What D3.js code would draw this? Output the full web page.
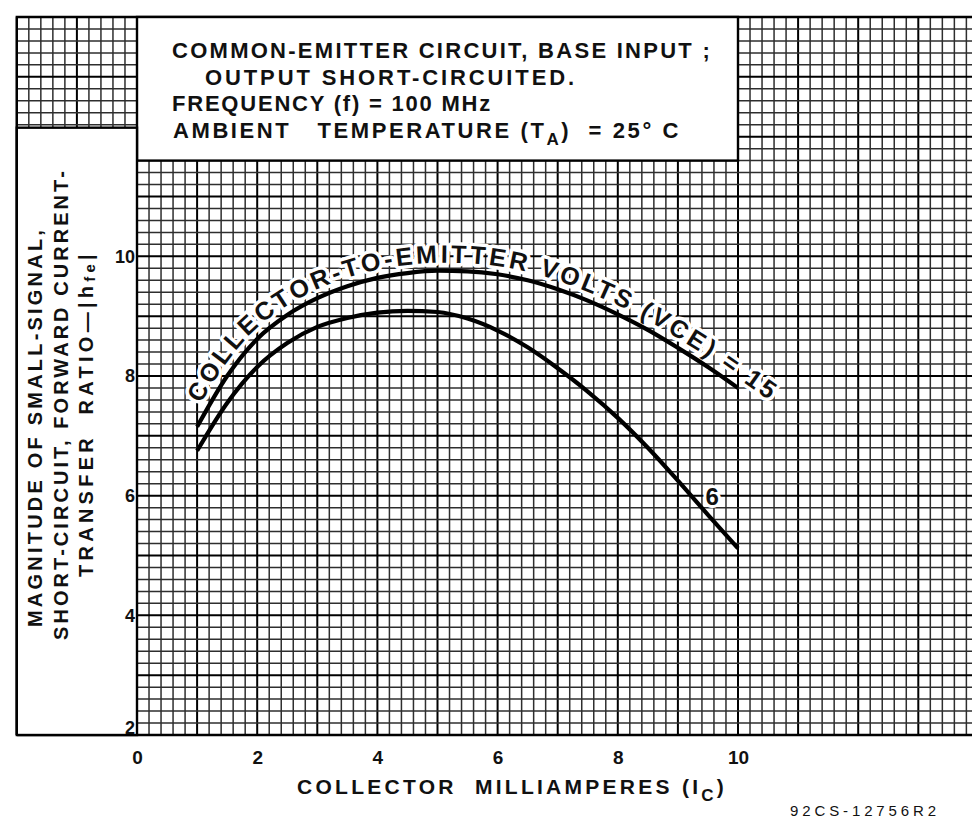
<!DOCTYPE html>
<html>
<head>
<meta charset="utf-8">
<script src="https://cdn.jsdelivr.net/npm/d3@7"></script>
<style>
  html, body { margin: 0; padding: 0; background: #fff; }
  svg text { font-family: "Liberation Sans", Arial, sans-serif; fill: #111; white-space: pre; }
</style>
</head>
<body>
<svg id="chart" width="972" height="818"></svg>
<script>
// collector current, mA
var collectorMa = [1, 1.5, 2, 2.5, 3, 3.5, 4, 4.5, 5, 5.5, 6, 6.5, 7, 7.5, 8, 8.5, 9, 9.5, 10];
// |hfe|
var hfeVce15 = [7.15, 8.0, 8.62, 9.02, 9.3, 9.5, 9.64, 9.72, 9.76, 9.75, 9.7, 9.6, 9.45, 9.26, 9.03, 8.77, 8.47, 8.15, 7.8];
var hfeVce6 = [6.75, 7.55, 8.15, 8.55, 8.82, 8.97, 9.06, 9.09, 9.07, 8.96, 8.76, 8.48, 8.13, 7.74, 7.3, 6.8, 6.25, 5.68, 5.12];
var xTicks = [0, 2, 4, 6, 8, 10];
var yTicks = [2, 4, 6, 8, 10];
var curveLabel15 = "COLLECTOR-TO-EMITTER VOLTS (VCE) = 15";
var curveLabel6 = "6";

var svg = d3.select("#chart");

var x = d3.scaleLinear().domain([0, 10]).range([137, 738]);
var y = d3.scaleLinear().domain([2, 14]).range([735, 17]);

// spread letters so a text fills a given width
function fitWidth(sel, target) {
  var natural = sel.node().getComputedTextLength();
  var n = sel.text().length;
  sel.attr("letter-spacing", ((target - natural) / n).toFixed(2));
}

function isMajor(d) { return Math.abs(d - Math.round(d)) < 1e-6; }

// ---- graph paper ----
var grid = svg.append("g");
var xs = d3.range(-10, 71).map(function(i) { return i / 5; });
var ys = d3.range(10, 71).map(function(i) { return i / 5; });

grid.selectAll("line.v")
    .data(xs)
  .enter().append("line")
    .attr("x1", function(d) { return x(d); })
    .attr("x2", function(d) { return x(d); })
    .attr("y1", y(14))
    .attr("y2", y(2))
    .attr("stroke", function(d) { return isMajor(d) ? "#000" : "#2e2e2e"; })
    .attr("stroke-width", function(d) { return isMajor(d) ? 2 : 1.5; });

grid.selectAll("line.h")
    .data(ys)
  .enter().append("line")
    .attr("y1", function(d) { return y(d); })
    .attr("y2", function(d) { return y(d); })
    .attr("x1", x(-2))
    .attr("x2", 972)
    .attr("stroke", function(d) { return isMajor(d) ? "#000" : "#2e2e2e"; })
    .attr("stroke-width", function(d) { return isMajor(d) ? 2 : 1.5; });

// outer frame
svg.append("path")
    .attr("d", "M" + x(-2) + "," + y(2) + "V" + y(14) + "H972M" + x(-2) + "," + y(2) + "H972")
    .attr("fill", "none")
    .attr("stroke", "#000")
    .attr("stroke-width", 2.4);

// white boxes for the notes and the y title
svg.append("rect")
    .attr("x", x(0)).attr("y", y(14))
    .attr("width", x(10) - x(0)).attr("height", y(11.6) - y(14))
    .attr("fill", "#fff").attr("stroke", "#000").attr("stroke-width", 2.4);

svg.append("rect")
    .attr("x", x(-2)).attr("y", y(12.15))
    .attr("width", x(0) - x(-2)).attr("height", y(2) - y(12.15))
    .attr("fill", "#fff").attr("stroke", "#000").attr("stroke-width", 2.4);

// ---- notes ----
var notes = [
  { t: "COMMON-EMITTER CIRCUIT, BASE INPUT ;", x: 172, y: 58, w: 540 },
  { t: "OUTPUT SHORT-CIRCUITED.", x: 205, y: 85, w: 372 },
  { t: "FREQUENCY (f) = 100 MHz", x: 172, y: 111, w: 320 }
];
notes.forEach(function(n) {
  var t = svg.append("text")
      .attr("x", n.x).attr("y", n.y)
      .attr("font-size", 22).attr("font-weight", "bold")
      .text(n.t);
  fitWidth(t, n.w);
});

var amb = svg.append("text")
    .attr("x", 173).attr("y", 138)
    .attr("font-size", 22).attr("font-weight", "bold");
amb.append("tspan").text("AMBIENT   TEMPERATURE (T");
amb.append("tspan").attr("font-size", 17).attr("dy", 7).text("A");
amb.append("tspan").attr("dy", -7).text(")  = 25\u00b0 C");
fitWidth(amb, 508);

// ---- axes ----
var xAxis = svg.append("g")
    .attr("transform", "translate(0," + y(2) + ")")
    .call(d3.axisBottom(x).tickValues(xTicks).tickSize(0).tickPadding(16));
xAxis.select(".domain").remove();
xAxis.selectAll("text")
    .attr("font-size", 19).attr("font-weight", "bold")
    .attr("font-family", "Liberation Sans, Arial, sans-serif").attr("fill", "#111");

var yAxis = svg.append("g")
    .attr("transform", "translate(" + x(0) + ",0)")
    .call(d3.axisLeft(y).tickValues(yTicks).tickSize(0).tickPadding(2));
yAxis.select(".domain").remove();
yAxis.selectAll("text")
    .attr("font-size", 18).attr("font-weight", "bold")
    .attr("font-family", "Liberation Sans, Arial, sans-serif").attr("fill", "#111")
    .attr("dy", function(d) { return d === 2 ? "-0.1em" : "0.32em"; });

var xt = svg.append("text")
    .attr("x", 297).attr("y", 794)
    .attr("font-size", 21).attr("font-weight", "bold");
xt.append("tspan").text("COLLECTOR  MILLIAMPERES (I");
xt.append("tspan").attr("font-size", 17).attr("dy", 7).text("C");
xt.append("tspan").attr("dy", -7).text(")");
fitWidth(xt, 430);

var yTitle = [
  { t: "MAGNITUDE OF SMALL-SIGNAL,", col: 42, s: 627, w: 400 },
  { t: "SHORT-CIRCUIT, FORWARD CURRENT-", col: 68, s: 640, w: 472 }
];
yTitle.forEach(function(n) {
  var t = svg.append("text")
      .attr("transform", "translate(" + n.col + "," + n.s + ") rotate(-90)")
      .attr("font-size", 20).attr("font-weight", "bold")
      .text(n.t);
  fitWidth(t, n.w);
});
var y3 = svg.append("text")
    .attr("transform", "translate(93,577) rotate(-90)")
    .attr("font-size", 20).attr("font-weight", "bold");
y3.append("tspan").text("TRANSFER  RATIO\u2014|h");
y3.append("tspan").attr("font-size", 15).attr("dy", 2).text("fe");
y3.append("tspan").attr("dy", -2).text("|");
fitWidth(y3, 327);

svg.append("text")
    .attr("x", 790).attr("y", 816)
    .attr("font-size", 15)
    .text("92CS-12756R2")
    .call(function(t) { fitWidth(t, 150); });

// ---- curves ----
var line = d3.line()
    .x(function(d) { return x(d[0]); })
    .y(function(d) { return y(d[1]); })
    .curve(d3.curveMonotoneX);

var pts15 = collectorMa.map(function(c, i) { return [c, hfeVce15[i]]; });
var pts6 = collectorMa.map(function(c, i) { return [c, hfeVce6[i]]; });

// label path running just above the VCE = 15 curve
var probe = svg.append("path").attr("d", line(pts15)).attr("fill", "none");
var node = probe.node(), L = node.getTotalLength(), gap = 8;
var off = [];
for (var s = 0; s <= L; s += 3) {
  var p = node.getPointAtLength(s),
      q = node.getPointAtLength(Math.min(L, s + 1)),
      r = node.getPointAtLength(Math.max(0, s - 1));
  var tx = q.x - r.x, ty = q.y - r.y, nn = Math.hypot(tx, ty);
  off.push([p.x + ty / nn * gap, p.y - tx / nn * gap, tx / nn, ty / nn]);
}
var last = off[off.length - 1];
var L0 = 0;
for (var i = 1; i < off.length; i++) L0 += Math.hypot(off[i][0] - off[i - 1][0], off[i][1] - off[i - 1][1]);
off.push([last[0] + last[2] * 60, last[1] + last[3] * 60]);
probe.remove();

svg.append("defs").append("path")
    .attr("id", "lab15")
    .attr("d", d3.line()(off.map(function(d) { return [d[0], d[1]]; })));

var lab = svg.append("text")
    .attr("font-size", 25).attr("font-weight", "bold")
    .attr("stroke", "#fff").attr("stroke-width", 7)
    .attr("stroke-linejoin", "round").attr("paint-order", "stroke");
lab.append("textPath")
    .attr("href", "#lab15")
    .attr("startOffset", 22)
    .text(curveLabel15);
var natural = lab.node().getComputedTextLength();
lab.attr("letter-spacing", ((L0 + 38 - 22 - natural) / curveLabel15.length).toFixed(2));

svg.append("text")
    .attr("x", x(9.57)).attr("y", y(5.84))
    .attr("text-anchor", "middle")
    .attr("font-size", 24).attr("font-weight", "bold")
    .attr("stroke", "#fff").attr("stroke-width", 6)
    .attr("stroke-linejoin", "round").attr("paint-order", "stroke")
    .text(curveLabel6);

svg.selectAll("path.curve")
    .data([pts15, pts6])
  .enter().append("path")
    .attr("class", "curve")
    .attr("d", line)
    .attr("fill", "none")
    .attr("stroke", "#000")
    .attr("stroke-width", 4.2);
</script>
</body>
</html>
